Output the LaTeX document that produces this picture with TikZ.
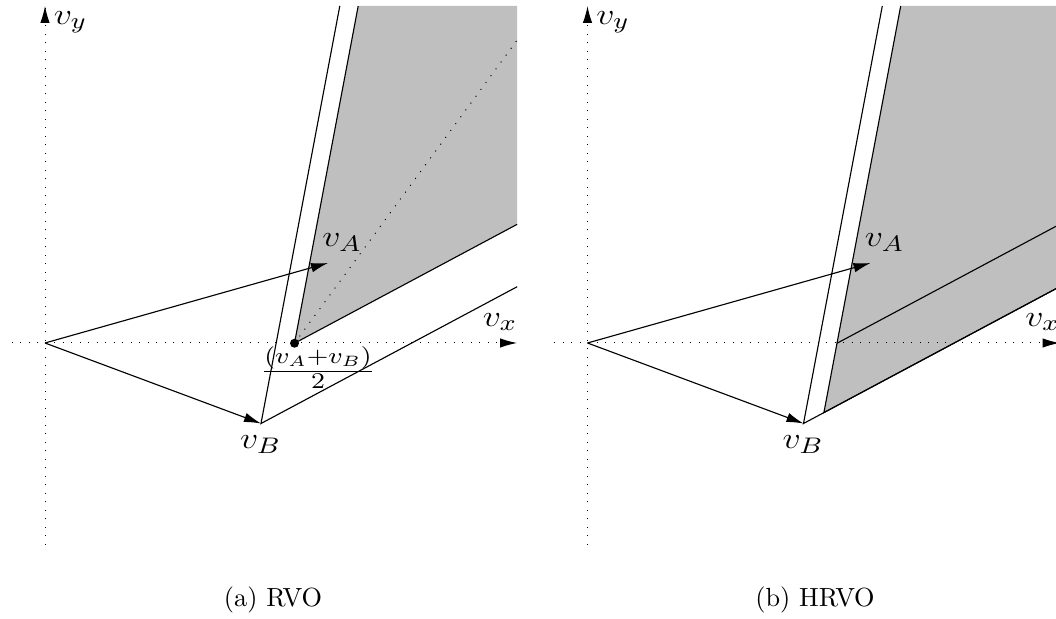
\documentclass[tikz,border=0pt]{standalone}
\usepackage{graphicx}
\usetikzlibrary{arrows.meta,calc}
\definecolor{cone}{gray}{0.75}
\newcommand\sx[1]{\scalebox{1.2}[1]{\fontsize{12.5}{14}\selectfont #1}}
\tikzset{
  vec/.style={line width=0.45pt,-{Latex[length=6.8pt,width=3.8pt]}},
  dotaxis/.style={line width=0.4pt,dash pattern=on 0.4pt off 3pt},
  segline/.style={line width=0.45pt},
  lbl/.style={inner sep=0pt},
  captxt/.style={inner sep=0pt,font=\fontsize{10.5}{12}\selectfont}
}
\begin{document}
\begin{tikzpicture}[x=0.4pt,y=-0.4pt]
\useasboundingbox (0,0) rectangle (1056,619);
% ---------- panel (a) ----------
\coordinate (Oa) at (45,343);
\coordinate (Aa) at (328,263);
\coordinate (Ba) at (261,423.5);
\coordinate (Ma) at (294.5,343.25);
\coordinate (VLa) at (339.8,6);
\coordinate (VRa) at (517.2,286.7);
\coordinate (RLa) at (358.2,6);
\coordinate (RRa) at (517.2,224.3);
\coordinate (TRa) at (517.2,6);
\coordinate (CLa) at (517.2,40);
\coordinate (XLa) at (11.8,343);
\coordinate (XRa) at (517,343);
\coordinate (YBa) at (45,545);
\coordinate (YTa) at (45,6);
\fill[cone] (Ma) -- (RLa) -- (TRa) -- (RRa) -- cycle;
\draw[segline] (RLa) -- (Ma) -- (RRa);
\draw[dotaxis] (Ma) -- (CLa);
\draw[segline] (VLa) -- (Ba) -- (VRa);
\draw[dotaxis] (XLa) -- (XRa);
\draw[dotaxis] (YBa) -- (YTa);
\draw[vec] ($(XRa)+(-14,0)$) -- (XRa);
\draw[vec] ($(YTa)+(0,14)$) -- (YTa);
\draw[vec] (Oa) -- (Aa);
\draw[vec] (Oa) -- (Ba);
\fill (Ma) circle[radius=1.8pt];
\node[lbl] (vya) at (70.5,22) {\sx{$v_y$}};
\node[lbl] (vxa) at (500,322) {\sx{$v_x$}};
\node[lbl] (vAa) at (342,243) {\sx{$v_A$}};
\node[lbl] (vBa) at (260.6,445) {\sx{$v_B$}};
\node[lbl] (fra) at (318,368) {\sx{$\frac{(v_A+v_B)}{2}$}};
\node[captxt] (capa) at (273,600) {(a) RVO};
% ---------- panel (b) ----------
\begin{scope}[xshift=217pt]
\coordinate (Ob) at (45,343);
\coordinate (Ab) at (328,263);
\coordinate (Bb) at (261,423.5);
\coordinate (Mb) at (294.5,343.25);
\coordinate (VLb) at (339.8,6);
\coordinate (VRb) at (517.2,286.7);
\coordinate (RLb) at (358.2,6);
\coordinate (RRb) at (517.2,224.3);
\coordinate (TRb) at (517.2,6);
\coordinate (Hb) at (281.4,412.6);
\coordinate (XLb) at (11.8,343);
\coordinate (XRb) at (517,343);
\coordinate (YBb) at (45,545);
\coordinate (YTb) at (45,6);
\fill[cone] (Hb) -- (RLb) -- (TRb) -- (VRb) -- cycle;
\draw[segline] (RLb) -- (Hb) -- (VRb);
\draw[segline] (Mb) -- (RRb);
\draw[segline] (VLb) -- (Bb) -- (VRb);
\draw[dotaxis] (XLb) -- (XRb);
\draw[dotaxis] (YBb) -- (YTb);
\draw[vec] ($(XRb)+(-14,0)$) -- (XRb);
\draw[vec] ($(YTb)+(0,14)$) -- (YTb);
\draw[vec] (Ob) -- (Ab);
\draw[vec] (Ob) -- (Bb);
\node[lbl] (vyb) at (70.5,22) {\sx{$v_y$}};
\node[lbl] (vxb) at (500,322) {\sx{$v_x$}};
\node[lbl] (vAb) at (342,243) {\sx{$v_A$}};
\node[lbl] (vBb) at (260.6,445) {\sx{$v_B$}};
\node[captxt] (capb) at (272.5,600) {(b) HRVO};
\end{scope}
\end{tikzpicture}
\end{document}
